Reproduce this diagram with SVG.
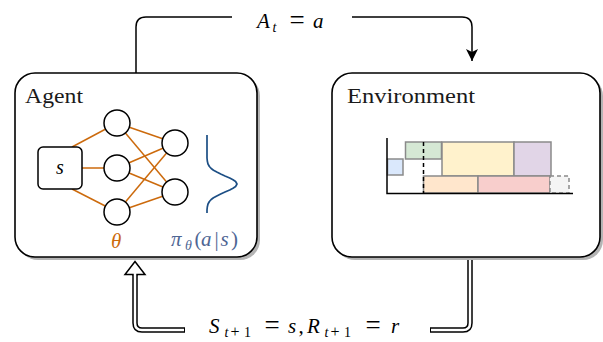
<svg xmlns="http://www.w3.org/2000/svg" width="603" height="342" viewBox="0 0 603 342">
<defs>
<style>
.box{fill:#fff;stroke:#000;stroke-width:1.6}
.shadow{fill:#b4b4b4}
.title{font-family:"Liberation Serif",serif;font-size:21px;fill:#1a1a1a}
.math{font-family:"Liberation Serif",serif;font-style:italic;fill:#000}
.up{font-style:normal}
.nn{stroke:#cc6a0c;stroke-width:1.5;fill:none}
.node{fill:#fff;stroke:#000;stroke-width:1.5}
.cell{stroke:#8a8a8a;stroke-width:1.5}
.axis{stroke:#000;stroke-width:1.5;fill:none}
</style>
<marker id="stealth" markerWidth="14" markerHeight="14" refX="12" refY="6" orient="auto" markerUnits="userSpaceOnUse">
<path d="M0,0 L12,6 L0,12 L3,6 Z" fill="#000"/>
</marker>
</defs>

<g id="connectors">
<path d="M136,73 V27 Q136,17 146,17 H232" fill="none" stroke="#000" stroke-width="1.5"/>
<path d="M352,17 H462 Q472,17 472,27 V61" fill="none" stroke="#000" stroke-width="1.5" marker-end="url(#stealth)"/>
<path d="M470,258 V323 Q470,330 463,330 H430 M185,330 H142 Q135,330 135,323 V275.5" fill="none" stroke="#000" stroke-width="5.5"/>
<path d="M470,257 V323 Q470,330 463,330 H431 M184,330 H142 Q135,330 135,323 V274" fill="none" stroke="#fff" stroke-width="2.5"/>
<path d="M133,276 V274.5 H125 L135,261.5 L145,274.5 H137 V276" fill="#fff" stroke="#000" stroke-width="1.5" stroke-linejoin="miter"/>
<text class="math" font-size="21"><tspan x="257" y="28">A</tspan><tspan x="272.5" y="31.5" font-size="14">t</tspan><tspan class="up" x="289.5" y="29" font-size="27">=</tspan><tspan x="313" y="28">a</tspan></text>
<text class="math" font-size="21"><tspan x="209" y="333">S</tspan><tspan x="224.5" y="337" font-size="14">t</tspan><tspan class="up" x="230.5" y="337" font-size="16">+</tspan><tspan class="up" x="244" y="337" font-size="14">1</tspan><tspan class="up" x="264.5" y="334" font-size="27">=</tspan><tspan x="288" y="333">s</tspan><tspan class="up" x="298.5" y="333">,</tspan><tspan x="307" y="333">R</tspan><tspan x="324.5" y="337" font-size="14">t</tspan><tspan class="up" x="330.5" y="337" font-size="16">+</tspan><tspan class="up" x="344" y="337" font-size="14">1</tspan><tspan class="up" x="365.5" y="334" font-size="27">=</tspan><tspan x="391" y="333">r</tspan></text>
</g>

<g id="agent">
<rect class="shadow" x="18" y="76" width="242" height="184" rx="20"/>
<rect class="box" x="15" y="73" width="242" height="184" rx="20"/>
<text class="title" x="25" y="103" textLength="58" lengthAdjust="spacingAndGlyphs">Agent</text>
<g class="nn">
<line x1="72" y1="147" x2="117" y2="123"/>
<line x1="82" y1="168" x2="117" y2="168"/>
<line x1="72" y1="189" x2="117" y2="212"/>
<line x1="117" y1="123" x2="175" y2="143"/>
<line x1="117" y1="123" x2="175" y2="192"/>
<line x1="117" y1="168" x2="175" y2="143"/>
<line x1="117" y1="168" x2="175" y2="192"/>
<line x1="117" y1="212" x2="175" y2="143"/>
<line x1="117" y1="212" x2="175" y2="192"/>
</g>
<rect class="node" x="38" y="147" width="44" height="42" rx="5"/>
<text class="math" font-size="20" x="60" y="174" text-anchor="middle">s</text>
<circle class="node" cx="117" cy="123" r="13"/>
<circle class="node" cx="117" cy="168" r="13"/>
<circle class="node" cx="117" cy="212" r="13"/>
<circle class="node" cx="175" cy="143" r="13"/>
<circle class="node" cx="175" cy="192" r="13"/>
<polyline points="207,135 207,158 207.3,161 208,164 209.4,166.5 211.2,168.5 213.5,170.2 216.8,172 220.7,174 225,176 229.7,178 233,179.8 235.6,181.5 237,184 235.6,186.5 233,188.2 229.7,190 225,192 220.7,194 216.8,196 213.5,197.8 211.2,199.5 209.4,201.5 208,204 207.3,207 207,210 207,213" fill="none" stroke="#1d4f85" stroke-width="1.7" stroke-linejoin="round"/>
<text class="math" font-size="21" x="111" y="248" style="fill:#cc6a0c">θ</text>
<text class="math" font-size="21" style="fill:#4e6694"><tspan x="171" y="246">π</tspan><tspan x="185" y="250" font-size="14">θ</tspan><tspan class="up" x="194.5" y="246">(</tspan><tspan x="201" y="246">a</tspan><tspan class="up" x="214.5" y="246">|</tspan><tspan x="220.5" y="246">s</tspan><tspan class="up" x="231" y="246">)</tspan></text>
</g>

<g id="environment">
<rect class="shadow" x="335" y="76" width="268" height="184" rx="20"/>
<rect class="box" x="332" y="73" width="268" height="184" rx="20"/>
<text class="title" x="347" y="103" textLength="128" lengthAdjust="spacingAndGlyphs">Environment</text>
<rect class="cell" x="405.5" y="142" width="36" height="17" fill="#d5e8d4"/>
<rect class="cell" x="387.5" y="159" width="15.5" height="16" fill="#dae8fc"/>
<rect class="cell" x="442" y="142" width="72" height="34" fill="#fff2cc"/>
<rect class="cell" x="514" y="142" width="37" height="34" fill="#e1d5e7"/>
<rect class="cell" x="423.5" y="176" width="54.5" height="17" fill="#ffe6cc"/>
<rect class="cell" x="478" y="176" width="72" height="17" fill="#f8cecc"/>
<rect class="cell" x="550" y="176" width="19" height="17" fill="#f5f5f5" stroke-dasharray="4,3"/>
<line x1="423.5" y1="142" x2="423.5" y2="193" stroke="#000" stroke-width="1.5" stroke-dasharray="4,3"/>
<path class="axis" d="M387,138 V193.5 H573"/>
</g>
</svg>
